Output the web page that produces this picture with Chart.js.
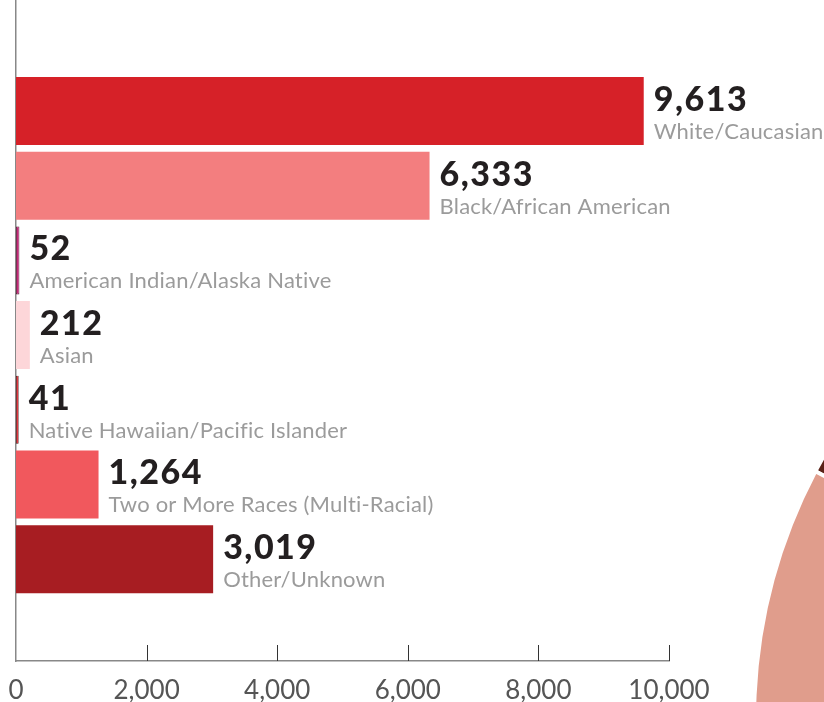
<!DOCTYPE html>
<html>
<head>
<meta charset="utf-8">
<script src="https://cdn.jsdelivr.net/npm/chart.js@4"></script>
<style>
  html, body { margin: 0; padding: 0; background: #ffffff; }
  #wrap { position: relative; width: 824px; height: 702px; overflow: hidden; background: #fff; }
  #main { position: absolute; left: 0; top: 0; }
  #pie { position: absolute; left: 752px; top: 183px; }
</style>
</head>
<body>
<div id="wrap">
  <canvas id="pie" width="1074" height="1074"></canvas>
  <canvas id="main" width="824" height="702"></canvas>
</div>
<script>
// ---- data ----
const categories = [
  "White/Caucasian",
  "Black/African American",
  "American Indian/Alaska Native",
  "Asian",
  "Native Hawaiian/Pacific Islander",
  "Two or More Races (Multi-Racial)",
  "Other/Unknown"
];
const values = [9613, 6333, 52, 212, 41, 1264, 3019];
const barColors = ["#d62128", "#f37e7f", "#c4297a", "#fdd6d9", "#e0202a", "#f1585d", "#a71d22"];
const barBorderColors = ["#d62128", "#f37e7f", "#4a1428", "#fdd6d9", "#4a1a1a", "#f1585d", "#a71d22"];
const barBorderWidths = [0, 0, 0.8, 0, 0.8, 0, 0];
const xTicks = [0, 2000, 4000, 6000, 8000, 10000];

// partial pie from neighbouring graphic (cut off at right edge)
const pieValues = [40, 220, 100];
const pieColors = ["#5a2218", "#c75b4f", "#e09d8c"];

const fmt = v => Number(v).toLocaleString('en-US');

const upTicks = {
  id: 'upTicks',
  afterDraw(c) {
    const s = c.scales.x, ctx = c.ctx;
    ctx.save();
    ctx.strokeStyle = '#333';
    ctx.lineWidth = 1;
    s.ticks.forEach((t, i) => {
      if (i === 0) return;
      const px = Math.round(s.getPixelForTick(i)) + 0.5;
      ctx.beginPath();
      ctx.moveTo(px, s.top - 16);
      ctx.lineTo(px, s.top);
      ctx.stroke();
    });
    ctx.restore();
  }
};

const barLabels = {
  id: 'barLabels',
  afterDatasetsDraw(c) {
    const meta = c.getDatasetMeta(0), ctx = c.ctx;
    ctx.save();
    ctx.textAlign = 'left';
    ctx.textBaseline = 'alphabetic';
    meta.data.forEach((el, i) => {
      const x = el.x + 10;
      ctx.font = '900 34px Lato';
      ctx.letterSpacing = '1.5px';
      ctx.fillStyle = '#231f20';
      ctx.fillText(fmt(values[i]), x, el.y);
      ctx.letterSpacing = '0.2px';
      ctx.font = '22px Lato';
      ctx.fillStyle = '#9b9b9b';
      ctx.fillText(categories[i], x, el.y + 28);
    });
    ctx.restore();
  }
};

new Chart(document.getElementById('main'), {
  type: 'bar',
  data: {
    datasets: [{
      data: values.map((v, i) => ({ x: v, y: i })),
      backgroundColor: barColors,
      borderColor: barBorderColors,
      borderWidth: barBorderWidths,
      borderSkipped: false,
      barPercentage: 0.91,
      categoryPercentage: 1
    }]
  },
  options: {
    indexAxis: 'y',
    responsive: false,
    animation: false,
    layout: { padding: { left: 16, right: 155, top: 0, bottom: 0 } },
    plugins: { legend: { display: false }, tooltip: { enabled: false } },
    scales: {
      x: {
        type: 'linear',
        min: 0, max: 10000,
        afterBuildTicks: s => { s.ticks = xTicks.map(v => ({ value: v })); },
        ticks: {
          callback: v => fmt(v),
          font: { family: 'Lato', size: 26 },
          color: '#555',
          padding: 6,
          maxRotation: 0,
          autoSkip: false
        },
        grid: { display: false },
        border: { display: true, color: '#888', width: 1.5 },
        afterFit: s => { s.height = 41; }
      },
      y: {
        type: 'linear',
        reverse: true,
        offset: false,
        min: -1.486, max: 7.363,
        afterBuildTicks: s => { s.ticks = categories.map((c, i) => ({ value: i })); },
        ticks: { display: false },
        grid: { display: false },
        border: { display: true, color: '#888', width: 1.5 },
        afterFit: s => { s.width = 0; }
      }
    }
  },
  plugins: [upTicks, barLabels]
});

new Chart(document.getElementById('pie'), {
  type: 'pie',
  data: {
    datasets: [{
      data: pieValues,
      backgroundColor: pieColors,
      borderColor: '#ffffff',
      borderWidth: 4
    }]
  },
  options: {
    responsive: false,
    animation: false,
    rotation: 297.7,
    layout: { padding: 0 },
    plugins: { legend: { display: false }, tooltip: { enabled: false } }
  }
});
</script>
</body>
</html>
